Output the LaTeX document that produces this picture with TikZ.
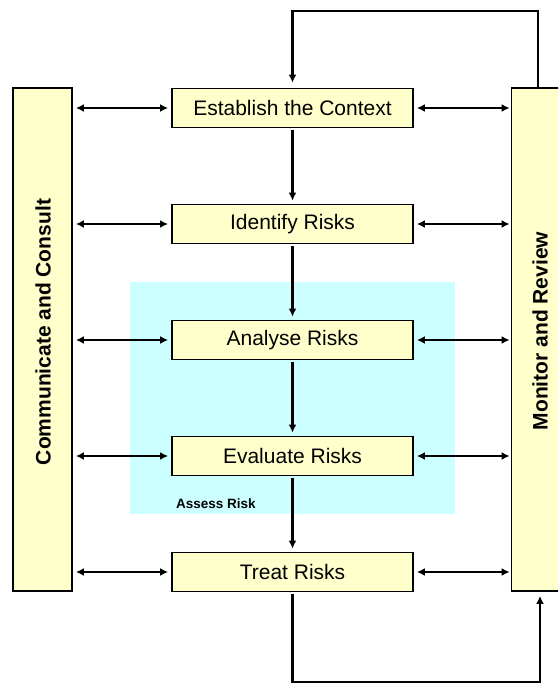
\documentclass[tikz,border=0pt]{standalone}
\usepackage{fontspec}
\setmainfont{Liberation Sans}
\usetikzlibrary{arrows.meta}
\definecolor{paleyellow}{HTML}{FFFFCC}
\definecolor{assesscyan}{HTML}{CCFFFF}

\begin{document}
\begin{tikzpicture}
			[x=1pt,y=-1pt]
			\tikzstyle{stage}=[draw, line width=1.8pt, fill=paleyellow, inner sep=0pt, minimum width=241pt, minimum height=39pt, font=\fontsize{21}{25}\selectfont]
			\tikzstyle{bar}=[draw, line width=1.8pt, fill=paleyellow, inner sep=0pt, minimum width=59pt, minimum height=503pt]
			\tikzstyle{bartext}=[rotate=90, inner sep=0pt, font=\bfseries\fontsize{21}{25}\selectfont]
			\tikzstyle{link}=[line width=2.4pt, {Latex[length=8pt,width=8pt]}-{Latex[length=8pt,width=8pt]}, shorten <=3pt, shorten >=3pt]
			\tikzstyle{flow}=[line width=2.4pt, -{Latex[length=8pt,width=8pt]}]
			\useasboundingbox (0,0) rectangle (558,684);
			\clip (0,0) rectangle (558,684);
			
			% assess risk region
			\fill[assesscyan] (130,282) rectangle (455,514);
			\node (assess) at (216,504) [inner sep=0pt, font=\bfseries\fontsize{13.5}{16}\selectfont] {Assess Risk};
			
			% side bars
			\node[bar] (cc) at (42.5,339.5) {};
			\node[bar] (mr) at (541,339.5) {};
			\node[bartext] (cctext) at (43,332) {Communicate and Consult};
			\node[bartext] (mrtext) at (540,331) {Monitor and Review};
			
			% process steps
			\node[stage] (est) at (292.5,108) {Establish the Context};
			\node[stage] (idf) at (292.5,224) {Identify Risks};
			\node[stage] (ana) at (292.5,340) {Analyse Risks};
			\node[stage] (eva) at (292.5,456) {Evaluate Risks};
			\node[stage] (tre) at (292.5,572) {Treat Risks};
			
			\draw[flow, shorten <=2pt, shorten >=3pt] (est) -- (idf);
			\draw[flow, shorten <=2pt, shorten >=3pt] (idf) -- (ana);
			\draw[flow, shorten <=2pt, shorten >=3pt] (ana) -- (eva);
			\draw[flow, shorten <=2pt, shorten >=3pt] (eva) -- (tre);
			
			\draw[link] (cc.east |- est) -- (est.west);
			\draw[link] (cc.east |- idf) -- (idf.west);
			\draw[link] (cc.east |- ana) -- (ana.west);
			\draw[link] (cc.east |- eva) -- (eva.west);
			\draw[link] (cc.east |- tre) -- (tre.west);
			\draw[link, shorten >=1pt] (est.east) -- (mr.west |- est);
			\draw[link, shorten >=1pt] (idf.east) -- (mr.west |- idf);
			\draw[link, shorten >=1pt] (ana.east) -- (mr.west |- ana);
			\draw[link, shorten >=1pt] (eva.east) -- (mr.west |- eva);
			\draw[link, shorten >=1pt] (tre.east) -- (mr.west |- tre);
			
			% feedback loops
			\coordinate (up) at (538,11);
			\coordinate (down) at (540,682);
			\draw[flow, shorten >=5pt] (mr.north -| up) -- (up) -| (est.north);
			\draw[flow, shorten <=2pt, shorten >=4pt] (tre.south) |- (down) -- (mr.south -| down);
		\end{tikzpicture}
\end{document}
